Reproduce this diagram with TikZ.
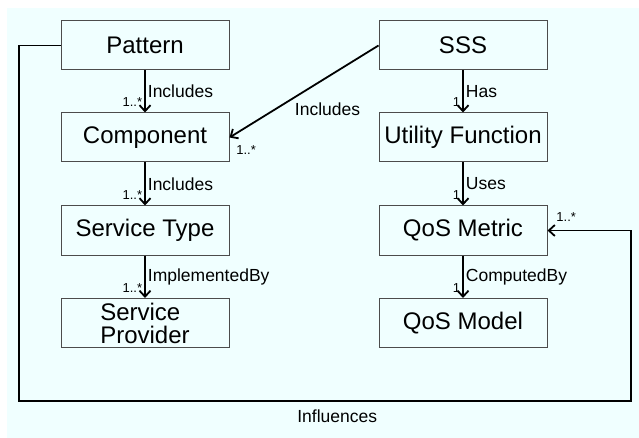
\documentclass[tikz,border=0pt]{standalone}
\usepackage{fontspec}
\setmainfont{Liberation Sans}
\usetikzlibrary{arrows.meta}
\definecolor{bgc}{HTML}{F0FFFF}
\begin{document}
\begin{tikzpicture}[x=1pt,y=-1pt,
  box/.style={draw=black!70, line width=1pt, fill=bgc, minimum width=168pt, minimum height=49pt, inner sep=0pt, font=\fontsize{24}{23}\selectfont},
  conn/.style={line width=1.8pt, -{Straight Barb[length=6pt,width=11pt]}},
  lbl/.style={font=\fontsize{17.5}{20}\selectfont, inner sep=2pt},
  mult/.style={font=\fontsize{13}{15}\selectfont, inner sep=0pt}]
\useasboundingbox (0,0) rectangle (639,438);
\fill[bgc] (7,8) rectangle (639,438);
% left column
\node[box] (pat) at (145,45.5) {Pattern};
\node[box] (comp) at (145,137.5) {Component};
\node[box] (stype) at (145,230.5) {Service Type};
\node[box, align=left] (sprov) at (145,323) {Service\\Provider};
% right column
\node[box] (sss) at (463,45.5) {SSS};
\node[box] (uf) at (463,137.5) {Utility Function};
\node[box] (qmet) at (463,230.5) {QoS Metric};
\node[box] (qmod) at (463,323) {QoS Model};
% connectors left
\draw[conn] (pat) -- (comp)
  node[lbl, midway, right] {Includes}
  node[mult, at end, anchor=base east, shift={(-2,-6)}] {1..*};
\draw[conn] (comp) -- (stype)
  node[lbl, midway, right] {Includes}
  node[mult, at end, anchor=base east, shift={(-2,-6)}] {1..*};
\draw[conn] (stype) -- (sprov)
  node[lbl, midway, right] {ImplementedBy}
  node[mult, at end, anchor=base east, shift={(-2,-6)}] {1..*};
% connectors right
\draw[conn] (sss) -- (uf)
  node[lbl, midway, right] {Has}
  node[mult, at end, anchor=base east, shift={(-2,-6)}] {1};
\draw[conn] (uf) -- (qmet)
  node[lbl, midway, right] {Uses}
  node[mult, at end, anchor=base east, shift={(-2,-6)}] {1};
\draw[conn] (qmet) -- (qmod)
  node[lbl, midway, right] {ComputedBy}
  node[mult, at end, anchor=base east, shift={(-2,-6)}] {1};
% diagonal
\draw[conn] (sss.west) -- (comp.east)
  node[lbl, pos=0.5, anchor=north west, shift={(-12,8)}] {Includes}
  node[mult, at end, anchor=base west, shift={(6,17)}] {1..*};
% influences loop
\coordinate (c1) at (19,401);
\coordinate (c2) at (631,401);
\draw[conn] (pat.west) -| (c1) -- (c2)
  node[lbl, pos=0.52, below=6pt] {Influences}
  |- (qmet.east)
  node[mult, at end, anchor=base west, shift={(8,-8.5)}] {1..*};
\end{tikzpicture}
\end{document}
